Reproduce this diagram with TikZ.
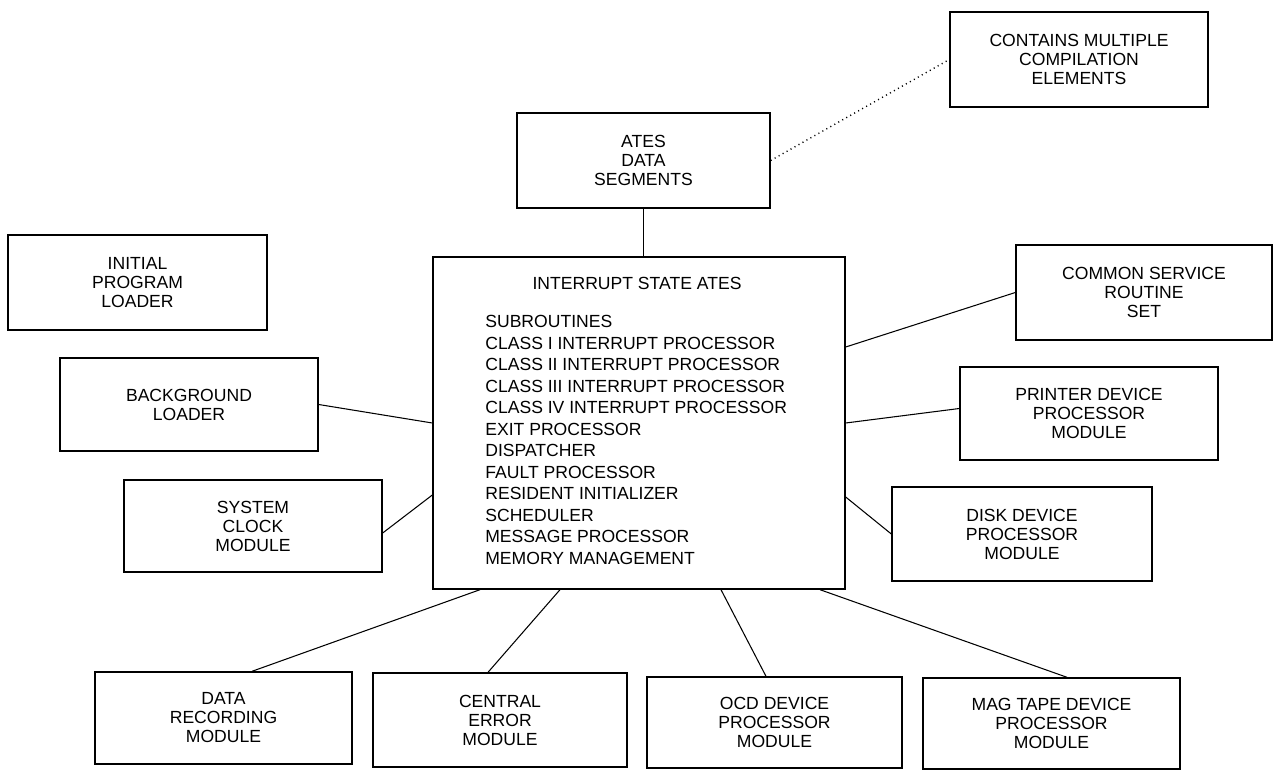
\documentclass[tikz,border=0pt]{standalone}
\usepackage{fontspec}
\setmainfont{Liberation Sans}
\usetikzlibrary{positioning}
\tikzset{box/.style={draw, line width=0.8pt, align=center, inner sep=2pt, font=\fontsize{10}{10.8}\selectfont},
         link/.style={line width=0.6pt}}

\begin{document}
\begin{tikzpicture}[x=0.02cm, y=-0.02cm]
  \useasboundingbox (0,0) rectangle (1273,770);
  % boxes on the left
  \node[box, minimum width=5.18cm, minimum height=1.9cm]  (ipl) at (137.5,282.5) {INITIAL\\PROGRAM\\LOADER};
  \node[box, minimum width=5.16cm, minimum height=1.86cm] (bgl) at (189,404.5) {BACKGROUND\\LOADER};
  \node[box, minimum width=5.16cm, minimum height=1.84cm] (clk) at (253,526) {SYSTEM\\CLOCK\\MODULE};
  % top
  \node[box, minimum width=5.06cm, minimum height=1.9cm]  (ates) at (643.5,160.5) {ATES\\DATA\\SEGMENTS};
  \node[box, minimum width=5.16cm, minimum height=1.9cm]  (cme) at (1079,59.5) {CONTAINS MULTIPLE\\COMPILATION\\ELEMENTS};
  % the central box
  \node[box, minimum width=8.24cm, minimum height=6.64cm] (main) at (639,423) {};
  \node[font=\fontsize{10}{12}\selectfont] (mtitle) at (637,283) {INTERRUPT STATE ATES};
  \node[anchor=north west, align=left, inner sep=0pt, font=\fontsize{10}{12.25}\selectfont] (mlist) at (485,315)
    {SUBROUTINES\\CLASS I INTERRUPT PROCESSOR\\CLASS II INTERRUPT PROCESSOR\\CLASS III INTERRUPT PROCESSOR\\
     CLASS IV INTERRUPT PROCESSOR\\EXIT PROCESSOR\\DISPATCHER\\FAULT PROCESSOR\\RESIDENT INITIALIZER\\
     SCHEDULER\\MESSAGE PROCESSOR\\MEMORY MANAGEMENT};
  % boxes on the right
  \node[box, minimum width=5.12cm, minimum height=1.9cm]  (csr) at (1144,292.5) {COMMON SERVICE\\ROUTINE\\SET};
  \node[box, minimum width=5.16cm, minimum height=1.86cm] (prn) at (1089,413.5) {PRINTER DEVICE\\PROCESSOR\\MODULE};
  \node[box, minimum width=5.2cm, minimum height=1.88cm]  (dsk) at (1022,534) {DISK DEVICE\\PROCESSOR\\MODULE};
  % bottom row
  \node[box, minimum width=5.14cm, minimum height=1.84cm] (drm) at (223.5,718) {DATA\\RECORDING\\MODULE};
  \node[box, minimum width=5.08cm, minimum height=1.88cm] (cem) at (500,720) {CENTRAL\\ERROR\\MODULE};
  \node[box, minimum width=5.1cm, minimum height=1.82cm]  (ocd) at (774.5,722.5) {OCD DEVICE\\PROCESSOR\\MODULE};
  \node[box, minimum width=5.14cm, minimum height=1.82cm] (mtp) at (1051.5,723.5) {MAG TAPE DEVICE\\PROCESSOR\\MODULE};

  % connections
  \draw[link] (ates.south) -- (ates.south |- main.north);
  \draw[link, dotted, line width=0.8pt] (ates.east) -- (cme.west);
  \draw[link] (bgl.east) -- (main.west);
  \draw[link] ([yshift=-0.14cm]clk.east) -- ([yshift=-1.44cm]main.west);
  \draw[link] ([yshift=1.52cm]main.east) -- (csr.west);
  \draw[link] (main.east) -- ([yshift=0.1cm]prn.west);
  \draw[link] ([yshift=-1.48cm]main.east) -- (dsk.west);
  \draw[link] ([xshift=-3.18cm]main.south) -- ([xshift=0.57cm]drm.north);
  \draw[link] ([xshift=-1.58cm]main.south) -- ([xshift=-0.24cm]cem.north);
  \draw[link] ([xshift=1.64cm]main.south) -- ([xshift=-0.17cm]ocd.north);
  \draw[link] ([xshift=3.62cm]main.south) -- ([xshift=0.31cm]mtp.north);
\end{tikzpicture}
\end{document}
